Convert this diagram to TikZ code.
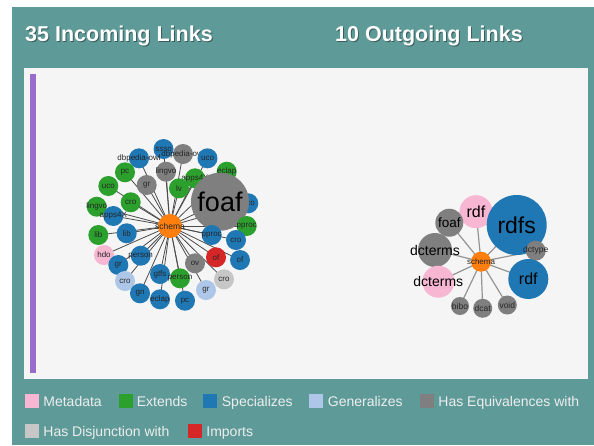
\documentclass[tikz,border=0pt]{standalone}
\usepackage{fontspec}
\setmainfont{Liberation Sans}
\usetikzlibrary{positioning}
\definecolor{tealbg}{HTML}{5E9B98}
\definecolor{panelbg}{HTML}{F5F5F5}
\definecolor{barcol}{HTML}{9B6BCC}
\definecolor{metacol}{HTML}{F7B6D2}
\definecolor{extcol}{HTML}{2CA02C}
\definecolor{speccol}{HTML}{1F77B4}
\definecolor{gencol}{HTML}{AEC7E8}
\definecolor{equivcol}{HTML}{7F7F7F}
\definecolor{disjcol}{HTML}{C7C7C7}
\definecolor{impcol}{HTML}{D62728}
\definecolor{schemacol}{HTML}{FF7F0E}
\pgfdeclarelayer{panel}
\pgfdeclarelayer{links}
\pgfsetlayers{panel,links,main}
\tikzset{onto/.style={circle,draw=none,inner sep=0pt,minimum size=20pt},
         meta/.style={onto,fill=metacol},
         ext/.style={onto,fill=extcol},
         spec/.style={onto,fill=speccol},
         gen/.style={onto,fill=gencol},
         equiv/.style={onto,fill=equivcol},
         disj/.style={onto,fill=disjcol},
         imp/.style={onto,fill=impcol},
         hub/.style={onto,fill=schemacol},
         lbl/.style={font=\fontsize{8}{8}\selectfont,text=black!85,inner sep=0pt},
         lb/.style={label={[lbl]center:#1}},
         inlink/.style={draw=black!70,line width=0.8pt},
         outlink/.style={draw=black!42,line width=1.2pt},
         legsq/.style={rectangle,minimum width=14pt,minimum height=14pt,inner sep=0pt},
         legtxt/.style={inner sep=0pt,text height=10pt,text depth=0pt,font=\fontsize{14}{14}\selectfont,text=white!93!black},
         ttl/.style={font=\fontsize{21.5}{22}\selectfont\bfseries,text=white,inner sep=0pt,anchor=base west},
         ttlshadow/.style={ttl,text=black,text opacity=0.4}
}
\begin{document}
\begin{tikzpicture}[x=1pt,y=-1pt]
\useasboundingbox (0,0) rectangle (594,445);

% frame
\begin{pgfonlayer}{panel}
\fill[white] (0,0) rectangle (594,445);
\fill[tealbg] (12,7) rectangle (594,445);
\filldraw[fill=panelbg,draw=white!92!gray,line width=0.8pt] (24.5,68) rectangle (587,378);
\fill[barcol] (29.5,74) rectangle (35.5,373);
\end{pgfonlayer}

% titles
\node[ttlshadow] (inShadow) at (26,42.5) {35 Incoming Links};
\node[ttl] (inTitle) at (25,41.5) {35 Incoming Links};
\node[ttlshadow] (outShadow) at (336,42.5) {10 Outgoing Links};
\node[ttl] (outTitle) at (335,41.5) {10 Outgoing Links};

% incoming links
\node[spec,lb=ssso] (sssoL) at (163.5,149) {};
\node[spec,lb=dbpedia-owl] (dbpSpec) at (139,158.3) {};
\node[equiv,lb=dbpedia-owl] (dbpEquiv) at (183,154) {};
\node[spec,lb=uco] (ucoSpecA) at (207.5,158.3) {};
\node[ext,lb=pc] (pcExt) at (125,172.3) {};
\node[equiv,lb=lingvo] (lingvoEquiv) at (166,171.7) {};
\node[ext,lb=apps4X] (appsExt) at (195,178.3) {};
\node[ext,lb=eclap] (eclapExt) at (226.7,171.7) {};
\node[ext,lb=uco] (ucoExt) at (108.3,186) {};
\node[equiv,lb=gr] (grEquiv) at (146.7,185) {};
\node[ext,lb=lv] (lvExt) at (179,188.3) {};
\node[spec,lb=uco] (ucoSpecB) at (248.3,203.3) {};
\node[ext,lb=cro] (croExt) at (130.7,202.3) {};
\node[ext,lb=lingvo] (lingvoExt) at (96.7,206.7) {};
\node[spec,lb=apps4X] (appsSpec) at (113.3,216) {};
\node[equiv,minimum size=58pt,label={[lbl,text=black,font=\fontsize{27}{27}\selectfont]center:foaf}] (foafL) at (220,201.7) {};
\node[ext,lb=pproc] (pprocExt) at (246.7,226) {};
\node[ext,lb=lib] (libExt) at (98.3,235) {};
\node[spec,lb=lib] (libSpec) at (126.7,233.3) {};
\node[spec,lb=pproc] (pprocSpec) at (211.7,235) {};
\node[spec,lb=cro] (croSpec) at (236,240) {};
\node[meta,lb=hdo] (hdoMeta) at (104,255) {};
\node[spec,lb=person] (personSpec) at (140.7,255.7) {};
\node[imp,lb=of] (ofImp) at (216,257.3) {};
\node[spec,lb=of] (ofSpec) at (240,260) {};
\node[spec,lb=gr] (grSpec) at (118.3,265) {};
\node[equiv,lb=ov] (ovEquiv) at (195,263.3) {};
\node[gen,lb=cro] (croGen) at (125,281) {};
\node[spec,lb=gtfs] (gtfsSpec) at (160,274) {};
\node[ext,lb=person] (personExt) at (180,278.3) {};
\node[disj,lb=cro] (croDisj) at (224,279.3) {};
\node[gen,lb=gr] (grGen) at (206,290) {};
\node[spec,lb=gn] (gnSpec) at (140,293.3) {};
\node[spec,lb=eclap] (eclapSpec) at (160,299.3) {};
\node[spec,lb=pc] (pcSpec) at (185,300.7) {};
\node[hub,minimum size=24pt,label={[lbl,font=\fontsize{8.5}{8.5}\selectfont]center:schema}] (schemaL) at (170,226) {};

\begin{pgfonlayer}{links}
\foreach \n in {sssoL,dbpSpec,dbpEquiv,ucoSpecA,pcExt,lingvoEquiv,appsExt,eclapExt,ucoExt,grEquiv,lvExt,ucoSpecB,croExt,lingvoExt,appsSpec,foafL,pprocExt,libExt,libSpec,pprocSpec,croSpec,hdoMeta,personSpec,ofImp,ofSpec,grSpec,ovEquiv,croGen,gtfsSpec,personExt,croDisj,grGen,gnSpec,eclapSpec,pcSpec}
  \draw[inlink] (schemaL.center) -- (\n.center);
\end{pgfonlayer}

% outgoing links
\node[meta,minimum size=33pt,label={[lbl,text=black,font=\fontsize{16}{16}\selectfont]center:rdf}] (rdfMeta) at (476,211.7) {};
\node[equiv,minimum size=28pt,label={[lbl,text=black,font=\fontsize{13.5}{13.5}\selectfont]center:foaf}] (foafR) at (449.3,222.7) {};
\node[equiv,minimum size=34pt,label={[lbl,text=black,font=\fontsize{14}{14}\selectfont]center:dcterms}] (dctermsEquiv) at (435,250) {};
\node[spec,minimum size=60pt,label={[lbl,text=black,font=\fontsize{23}{23}\selectfont]center:rdfs}] (rdfsSpec) at (516.7,225) {};
\node[equiv,label={[lbl,font=\fontsize{8.5}{8.5}\selectfont]center:dctype}] (dctypeEquiv) at (535.7,250.7) {};
\node[meta,minimum size=32pt,label={[lbl,text=black,font=\fontsize{14}{14}\selectfont]center:dcterms}] (dctermsMeta) at (438.3,281.7) {};
\node[spec,minimum size=40pt,label={[lbl,text=black,font=\fontsize{16}{16}\selectfont]center:rdf}] (rdfSpec) at (528.3,279) {};
\node[equiv,minimum size=18pt,label={[lbl,font=\fontsize{8.5}{8.5}\selectfont]center:bibo}] (biboEquiv) at (460,306) {};
\node[equiv,minimum size=19pt,label={[lbl,font=\fontsize{8.5}{8.5}\selectfont]center:dcat}] (dcatEquiv) at (482.7,308.3) {};
\node[equiv,minimum size=19pt,label={[lbl,font=\fontsize{8.5}{8.5}\selectfont]center:void}] (voidEquiv) at (507.3,305) {};
\node[hub,label={[lbl]center:schema}] (schemaR) at (481,261.7) {};

\begin{pgfonlayer}{links}
\foreach \n in {rdfMeta,foafR,dctermsEquiv,rdfsSpec,dctypeEquiv,dctermsMeta,rdfSpec,biboEquiv,dcatEquiv,voidEquiv}
  \draw[outlink] (schemaR.center) -- (\n.center);
\end{pgfonlayer}

% legend
\node[legsq,fill=metacol] (lgMeta) at (31.5,401) {};
\node[legtxt,right=4.5pt of lgMeta] (txMeta) {Metadata};
\node[legsq,fill=extcol] (lgExt) at (125.5,401) {};
\node[legtxt,right=4pt of lgExt] (txExt) {Extends};
\node[legsq,fill=speccol] (lgSpec) at (210,401) {};
\node[legtxt,right=4.5pt of lgSpec] (txSpec) {Specializes};
\node[legsq,fill=gencol] (lgGen) at (316,401) {};
\node[legtxt,right=4.5pt of lgGen] (txGen) {Generalizes};
\node[legsq,fill=equivcol] (lgEquiv) at (427,401) {};
\node[legtxt,right=4pt of lgEquiv] (txEquiv) {Has Equivalences with};
\node[legsq,fill=disjcol] (lgDisj) at (31.5,431) {};
\node[legtxt,right=4.5pt of lgDisj] (txDisj) {Has Disjunction with};
\node[legsq,fill=impcol] (lgImp) at (195,431) {};
\node[legtxt,right=4pt of lgImp] (txImp) {Imports};
\end{tikzpicture}
\end{document}
